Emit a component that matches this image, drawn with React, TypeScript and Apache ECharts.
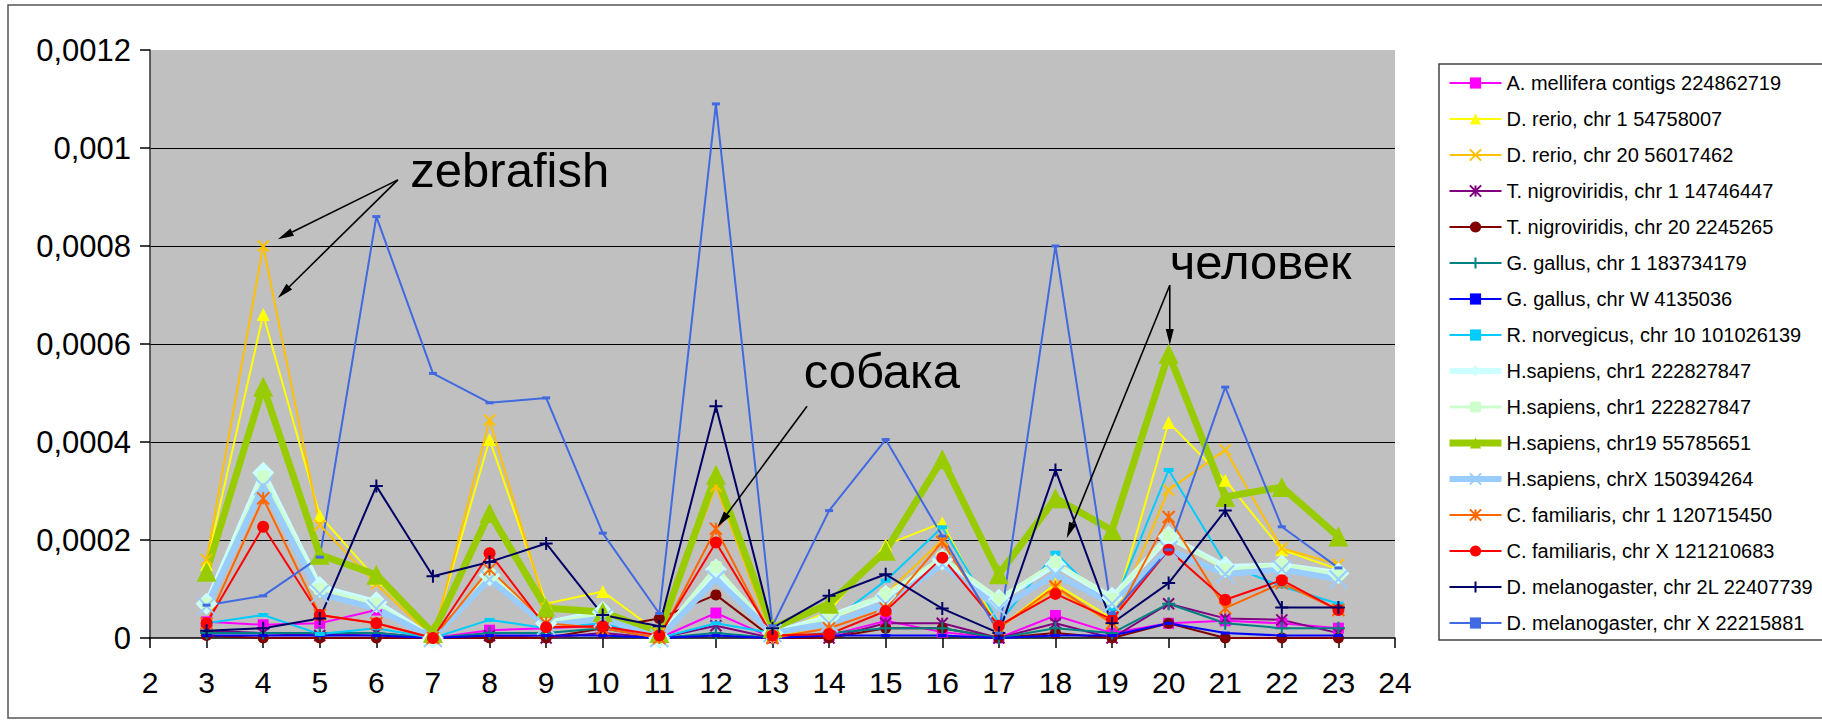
import { useEffect, useRef } from "react";
import * as echarts from "echarts";

const FONT = '"Liberation Sans", Arial, Helvetica, sans-serif';

// window positions along the sequence (x axis)
const positions = [3, 4, 5, 6, 7, 8, 9, 10, 11, 12, 13, 14, 15, 16, 17, 18, 19, 20, 21, 22, 23];

const aMellifera = [0.000033, 0.000027, 0.00003, 0.000057, 0, 0.000016, 0.00002, 0.000025, 0, 0.000051, 0, 0.000005, 0.000035, 0.000012, 0, 0.000046, 0.00001, 0.00003, 0.000035, 0.00003, 0.00002];
const dRerio1 = [0.00015, 0.00066, 0.00025, 0.00012, 0.000005, 0.000405, 0.00007, 0.000095, 0.00001, 0.00034, 0.000005, 0.000055, 0.00019, 0.000235, 0.00002, 0.00011, 0.00004, 0.00044, 0.000322, 0.00018, 0.00014];
const dRerio20 = [0.00016, 0.0008, 0.00023, 0.00011, 0, 0.000445, 0.00006, 0.00005, 0.00001, 0.00031, 0, 0.00003, 0.00009, 0.0002, 0.00002, 0.0001, 0.00003, 0.000302, 0.000384, 0.000183, 0.00015];
const tNigro1 = [0.000015, 0.00001, 0.000005, 0.00001, 0, 0.000005, 0, 0.00001, 0, 0.000025, 0, 0, 0.00003, 0.00003, 0, 0.00003, 0, 0.00007, 0.00004, 0.000037, 0.00001];
const tNigro20 = [0.000005, 0, 0, 0, 0, 0, 0, 0.00002, 0.00004, 0.000088, 0, 0, 0.00002, 0.00002, 0, 0.00001, 0, 0.00003, 0, 0, 0];
const gGallus1 = [0.00001, 0.00001, 0.00001, 0.00001, 0, 0.00001, 0.00001, 0.00002, 0, 0.00001, 0, 0.00001, 0.00002, 0.00002, 0, 0.00002, 0.00001, 0.00007, 0.00003, 0.00002, 0.00002];
const gGallusW = [0.000005, 0.000005, 0.000005, 0.000005, 0, 0.000005, 0.000005, 0.000005, 0, 0.000005, 0, 0.000005, 0.000005, 0.000005, 0, 0.000005, 0.000005, 0.00003, 0.00001, 0.000005, 0.000005];
const rNorvegicus = [0.00003, 0.000047, 0.000008, 0.00002, 0, 0.000037, 0.00002, 0.00003, 0, 0.00003, 0.00001, 0.00003, 0.000117, 0.000226, 0.00003, 0.000174, 0.00006, 0.000343, 0.000152, 0.000105, 0.00007];
const hSapiens1a = [0.00007, 0.000337, 0.000104, 0.000073, 0, 0.000128, 0.00003, 0.000053, 0, 0.00014, 0.00001, 0.000043, 0.000086, 0.00016, 0.000078, 0.00015, 0.000082, 0.000207, 0.000145, 0.000148, 0.000132];
const hSapiens1b = [0.00007, 0.00033, 0.0001, 0.00007, 0, 0.00013, 0.00003, 0.00005, 0, 0.000145, 0.00001, 0.00004, 0.00009, 0.000165, 0.00008, 0.000155, 0.00008, 0.00021, 0.00014, 0.00015, 0.00013];
const hSapiens19 = [0.000135, 0.000513, 0.00017, 0.000129, 0.00001, 0.000255, 0.000061, 0.000053, 0.00001, 0.000333, 0.00002, 0.00007, 0.000178, 0.000365, 0.00013, 0.000285, 0.00022, 0.00058, 0.000288, 0.000308, 0.000207];
const hSapiensX = [0.000065, 0.00031, 0.00009, 0.00006, 0, 0.00012, 0.000025, 0.00004, 0, 0.00012, 0.00001, 0.00003, 0.00007, 0.00015, 0.00006, 0.00013, 0.00007, 0.00018, 0.00013, 0.00014, 0.00012];
const cFamiliaris1 = [0.00003, 0.000285, 0.000047, 0.00003, 0, 0.00014, 0.00003, 0.00002, 0, 0.000223, 0, 0.00002, 0.00006, 0.000196, 0.00002, 0.000105, 0.00003, 0.000247, 0.000061, 0.000112, 0.000057];
const cFamiliarisX = [0.00003, 0.000227, 0.000047, 0.00003, 0, 0.000173, 0.000022, 0.000024, 0.000005, 0.000195, 0.000005, 0.000008, 0.000055, 0.000164, 0.000025, 0.00009, 0.000038, 0.00018, 0.000078, 0.000118, 0.000057];
const dMelanogaster2L = [0.000015, 0.00002, 0.00004, 0.00031, 0.000126, 0.000155, 0.000193, 0.000047, 0.000024, 0.000473, 0.00002, 0.000086, 0.00013, 0.00006, 0.00001, 0.000343, 0.00003, 0.000112, 0.00026, 0.000062, 0.000062];
const dMelanogasterX = [0.000067, 0.000086, 0.000165, 0.00086, 0.00054, 0.00048, 0.00049, 0.000214, 0.00005, 0.00109, 0.000025, 0.00026, 0.000405, 0.000208, 0.00001, 0.0008, 0.00005, 0.00018, 0.000512, 0.000227, 0.000143];

// annotations: label anchor and arrows, in data coordinates [x, value]
const notes = [
  { text: "zebrafish", at: [6.6, 0.000955], arrows: [[[6.38, 0.000935], [4.26, 0.000814]], [[6.38, 0.000935], [4.26, 0.000694]]] },
  { text: "собака", at: [13.55, 0.000545], arrows: [[[13.61, 0.000473], [12.03, 0.000227]]] },
  { text: "человек", at: [20.02, 0.000768], arrows: [[[20.02, 0.00072], [20.02, 0.000598]], [[20.02, 0.00072], [18.2, 0.000204]]] },
];

const X_SYM = "path://M0,0L10,10M10,0L0,10";
const PLUS_SYM = "path://M5,0L5,10M0,5L10,5";
const STAR_SYM = "path://M0,0L10,10M10,0L0,10M5,0L5,10";

type Style = { name: string; data: number[]; color: string; symbol: string; size: number | number[]; width: number; stroked?: boolean };

const seriesStyles: Style[] = [
  { name: "A. mellifera contigs 224862719", data: aMellifera, color: "#FF00FF", symbol: "rect", size: 11, width: 2 },
  { name: "D. rerio, chr 1 54758007", data: dRerio1, color: "#FFFF00", symbol: "triangle", size: 13, width: 2 },
  { name: "D. rerio, chr 20 56017462", data: dRerio20, color: "#FFC000", symbol: X_SYM, size: 11, width: 2, stroked: true },
  { name: "T. nigroviridis, chr 1 14746447", data: tNigro1, color: "#800080", symbol: STAR_SYM, size: 11, width: 2, stroked: true },
  { name: "T. nigroviridis, chr 20 2245265", data: tNigro20, color: "#800000", symbol: "circle", size: 11, width: 2 },
  { name: "G. gallus, chr 1 183734179", data: gGallus1, color: "#008080", symbol: PLUS_SYM, size: 13, width: 2, stroked: true },
  { name: "G. gallus, chr W 4135036", data: gGallusW, color: "#0000FF", symbol: "rect", size: [9, 3], width: 2 },
  { name: "R. norvegicus, chr 10 101026139", data: rNorvegicus, color: "#00CCFF", symbol: "rect", size: [10, 4], width: 2 },
  { name: "H.sapiens, chr1 222827847", data: hSapiens1a, color: "#CCFFFF", symbol: "diamond", size: 22, width: 6 },
  { name: "H.sapiens, chr1 222827847 ", data: hSapiens1b, color: "#CCFFCC", symbol: "roundRect", size: 12, width: 3 },
  { name: "H.sapiens, chr19 55785651", data: hSapiens19, color: "#99CC00", symbol: "triangle", size: 20, width: 7 },
  { name: "H.sapiens, chrX 150394264", data: hSapiensX, color: "#99CCFF", symbol: X_SYM, size: 18, width: 6, stroked: true },
  { name: "C. familiaris, chr 1 120715450", data: cFamiliaris1, color: "#FF6600", symbol: STAR_SYM, size: 12, width: 2, stroked: true },
  { name: "C. familiaris, chr X 121210683", data: cFamiliarisX, color: "#FF0000", symbol: "circle", size: 12, width: 2 },
  { name: "D. melanogaster, chr 2L 22407739", data: dMelanogaster2L, color: "#000066", symbol: PLUS_SYM, size: 13, width: 2, stroked: true },
  { name: "D. melanogaster, chr X 22215881", data: dMelanogasterX, color: "#4169E1", symbol: "rect", size: [8, 3], width: 2 },
];

function formatTick(v: number) {
  if (v === 0) return "0";
  return String(+v.toFixed(4)).replace(".", ",");
}

export default function App() {
  const ref = useRef<HTMLDivElement>(null);

  useEffect(() => {
    if (!ref.current) return;
    const chart = echarts.init(ref.current, null, { renderer: "svg" });

    const series = seriesStyles.map((s) => ({
      type: "line",
      name: s.name,
      data: positions.map((x, i) => [x, s.data[i]]),
      symbol: s.symbol,
      symbolSize: s.size,
      showAllSymbol: true,
      lineStyle: { color: s.color, width: s.width },
      itemStyle: s.stroked
        ? { color: s.color, borderColor: s.color, borderWidth: 2 }
        : { color: s.color, borderWidth: 0 },
      emphasis: { disabled: true },
    }));

    chart.setOption({
      animation: false,
      textStyle: { fontFamily: FONT },
      grid: {
        left: 150,
        top: 50,
        width: 1245,
        height: 588,
        show: true,
        backgroundColor: "#C0C0C0",
        borderWidth: 0,
      },
      xAxis: {
        type: "value",
        min: 2,
        max: 24,
        interval: 1,
        axisLine: { show: true, onZero: false, lineStyle: { color: "#000", width: 1.5 } },
        axisTick: { show: true, length: 10, lineStyle: { color: "#000", width: 1.5 } },
        axisLabel: { fontSize: 30, color: "#000", fontFamily: FONT, margin: 29 },
        splitLine: { show: false },
      },
      yAxis: {
        type: "value",
        min: 0,
        max: 0.0012,
        interval: 0.0002,
        axisLine: { show: true, lineStyle: { color: "#333", width: 1.5 } },
        axisTick: { show: true, length: 10, lineStyle: { color: "#000", width: 1.5 } },
        axisLabel: { fontSize: 31, color: "#000", fontFamily: FONT, margin: 19, formatter: formatTick },
        splitLine: { show: true, showMinLine: false, showMaxLine: false, lineStyle: { color: "#000", width: 1.2 } },
      },
      legend: {
        orient: "vertical",
        left: 1446,
        top: 73,
        itemWidth: 52,
        itemHeight: 14,
        itemGap: 16,
        padding: 0,
        selectedMode: false,
        data: seriesStyles.map((s) => ({
          name: s.name,
          lineStyle: { color: s.color, width: s.width },
        })),
        textStyle: { fontSize: 20, lineHeight: 20, color: "#000", fontFamily: FONT },
      },
      series,
    });

    // frame, legend box and annotations are placed after the axes exist
    const toPx = (p: number[]) => chart.convertToPixel({ gridIndex: 0 }, p) as number[];
    const elements: any[] = [
      {
        type: "rect",
        shape: { x: 8, y: 5, width: 1840, height: 713 },
        style: { fill: "none", stroke: "#555", lineWidth: 1.5 },
        silent: true,
        z: 0,
      },
      {
        type: "rect",
        shape: { x: 1439, y: 64, width: 400, height: 576 },
        style: { fill: "#fff", stroke: "#444", lineWidth: 1.5 },
        silent: true,
        z: 1,
      },
    ];

    notes.forEach((n) => {
      const [tx, ty] = toPx(n.at);
      elements.push({
        type: "text",
        x: tx,
        y: ty,
        z: 10,
        silent: true,
        style: {
          text: n.text,
          fill: "#000",
          fontSize: 49,
          fontFamily: FONT,
          align: "left",
          verticalAlign: "middle",
          textAlign: "left",
          textVerticalAlign: "middle",
        },
      });
      n.arrows.forEach(([from, to]) => {
        const [x1, y1] = toPx(from);
        const [x2, y2] = toPx(to);
        const dx = x2 - x1;
        const dy = y2 - y1;
        const len = Math.hypot(dx, dy) || 1;
        const ux = dx / len;
        const uy = dy / len;
        const headLen = 16;
        const half = 4;
        const bx = x2 - ux * headLen;
        const by = y2 - uy * headLen;
        elements.push({
          type: "line",
          z: 10,
          silent: true,
          shape: { x1, y1, x2: bx, y2: by },
          style: { stroke: "#000", lineWidth: 1.6 },
        });
        elements.push({
          type: "polygon",
          z: 10,
          silent: true,
          shape: {
            points: [
              [x2, y2],
              [bx - uy * half, by + ux * half],
              [bx + uy * half, by - ux * half],
            ],
          },
          style: { fill: "#000" },
        });
      });
    });

    chart.setOption({ graphic: { elements } });

    return () => chart.dispose();
  }, []);

  return (
    <div
      ref={ref}
      style={{ position: "absolute", left: 0, top: 0, width: 1822, height: 723, background: "#fff" }}
    />
  );
}
